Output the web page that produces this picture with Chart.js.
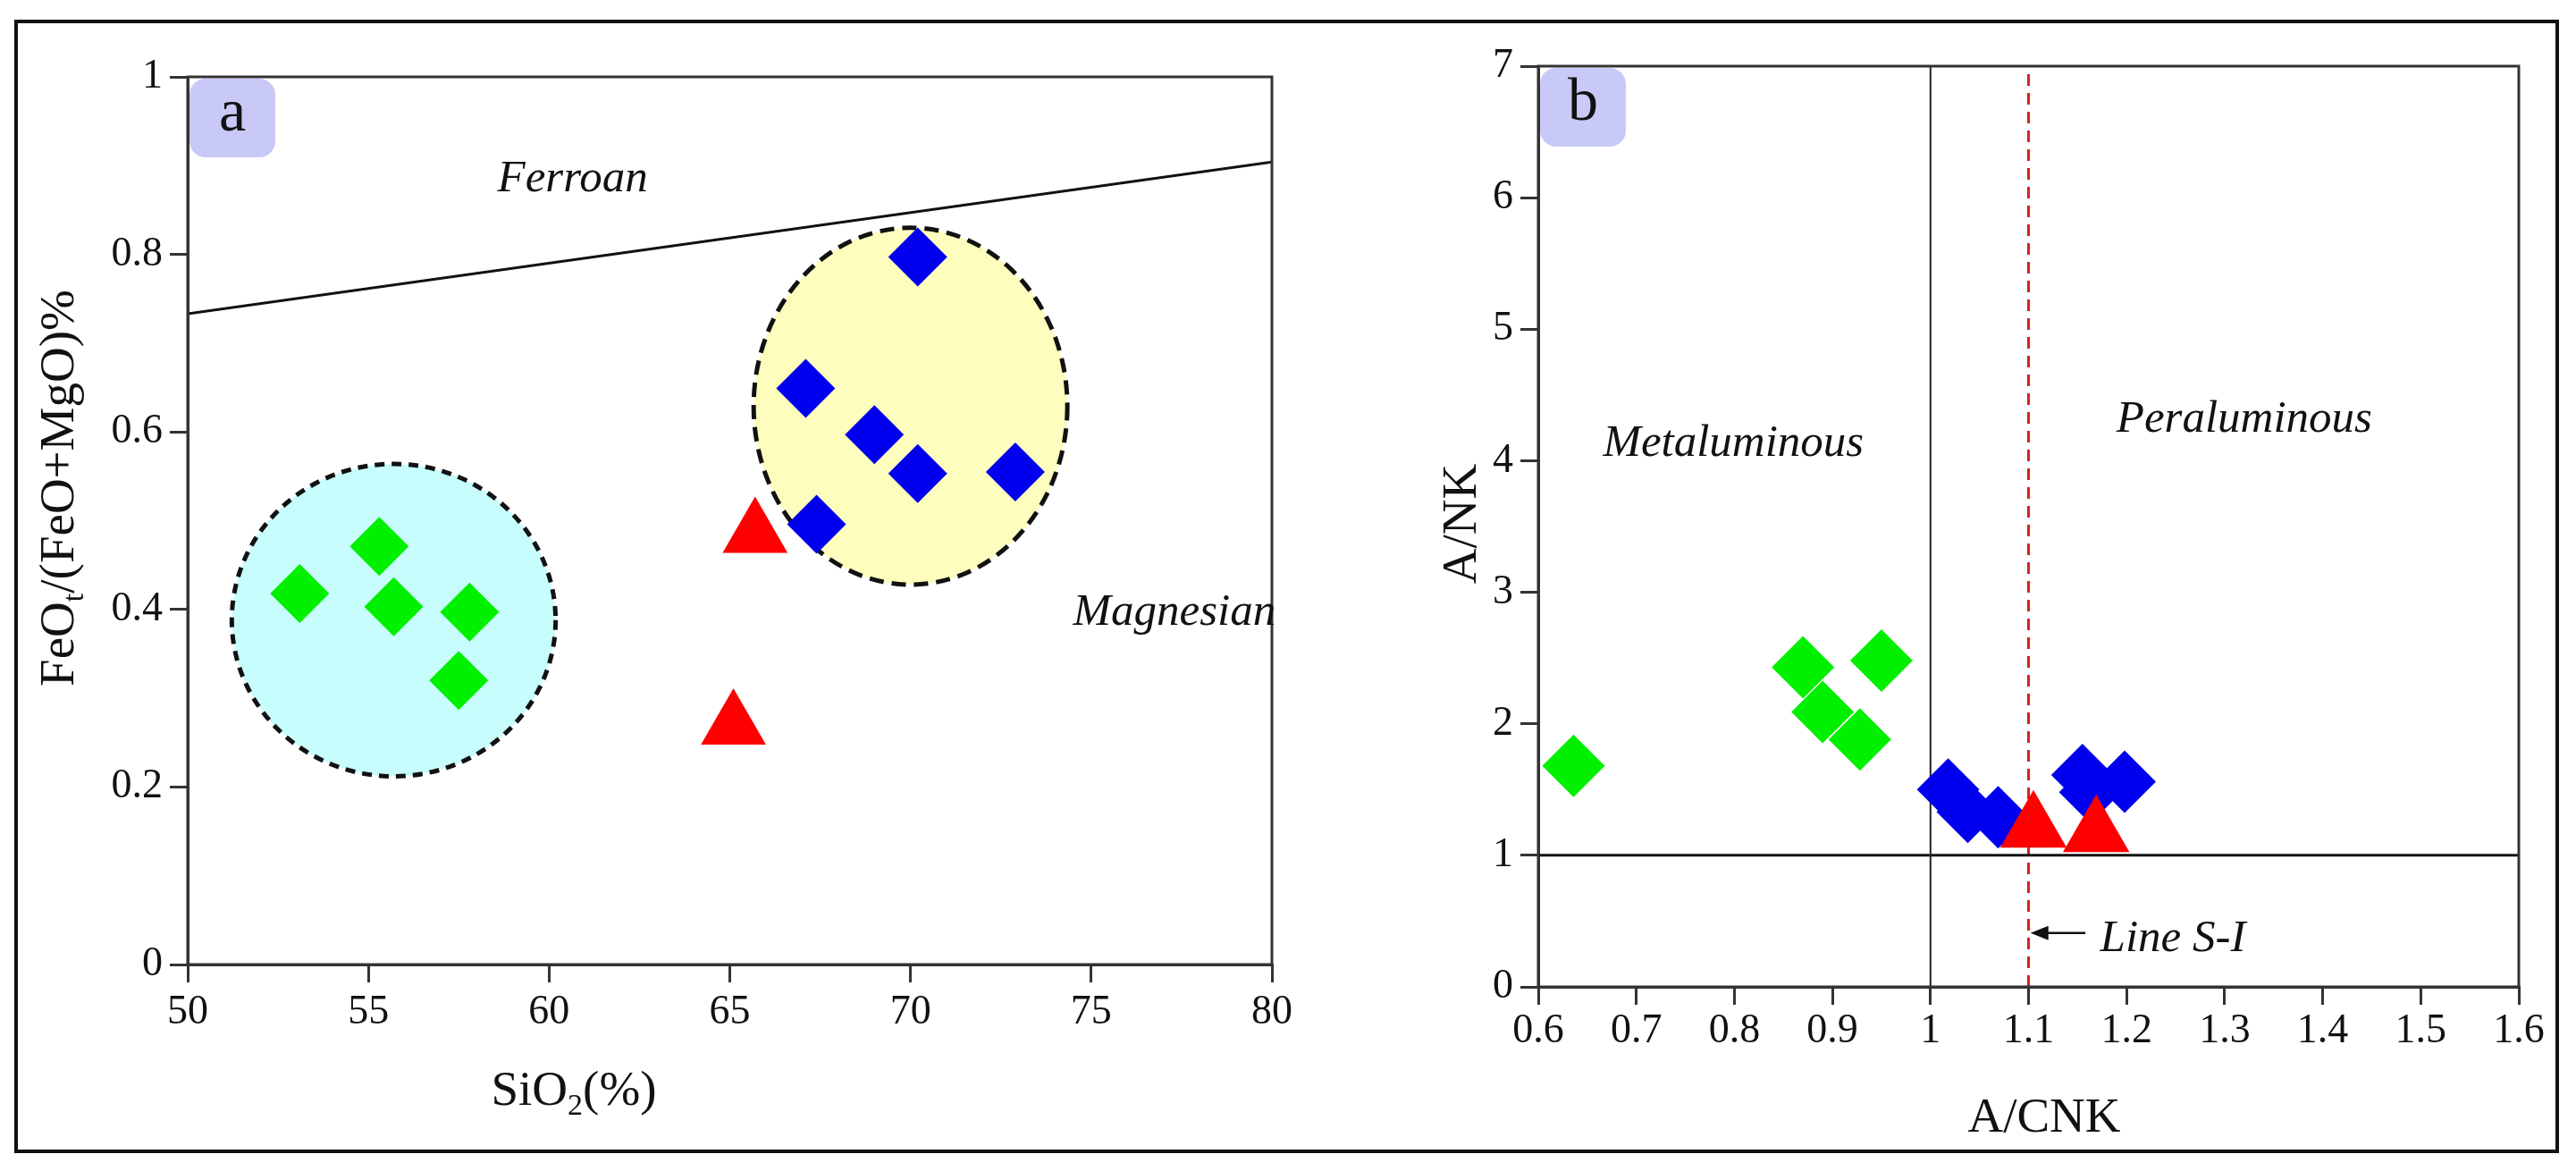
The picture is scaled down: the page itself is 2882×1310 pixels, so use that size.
<!DOCTYPE html>
<html>
<head>
<meta charset="utf-8">
<title>FeOt/(FeO+MgO) vs SiO2 and A/NK vs A/CNK</title>
<script src="https://cdn.jsdelivr.net/npm/chart.js@4.4.1/dist/chart.umd.min.js"></script>
<style>
  html, body { margin: 0; padding: 0; background: #fff; }
  #wrap { position: relative; width: 2882px; height: 1310px; overflow: hidden; }
  #frame { position: absolute; left: 16px; top: 22px; width: 2847px; height: 1268px; box-sizing: border-box; border: 4px solid #111; }
  canvas { position: absolute; top: 0; }
  #chartA { left: 0; }
  #chartB { left: 1441px; }
</style>
</head>
<body>
<div id="wrap">
  <div id="frame"></div>
  <canvas id="chartA" width="1500" height="1310"></canvas>
  <canvas id="chartB" width="1441" height="1310"></canvas>
</div>
<script>
// --- Panel a: SiO2 vs FeOt/(FeO+MgO) ---
const siTicks = [50, 55, 60, 65, 70, 75, 80];
const feTicks = [0, 0.2, 0.4, 0.6, 0.8, 1];
const greenSi = [53.1, 55.3, 55.7, 57.8, 57.5];
const greenFe = [0.418, 0.471, 0.403, 0.397, 0.320];
const blueSi = [70.2, 67.1, 69.0, 70.2, 72.9, 67.4];
const blueFe = [0.797, 0.649, 0.597, 0.553, 0.555, 0.496];
const redSi = [65.7, 65.1];
const redFe = [0.485, 0.269];
const ferroanSi = [50, 80];
const ferroanFe = [0.733, 0.904];

// --- Panel b: A/CNK vs A/NK ---
const acnkTicks = [0.6, 0.7, 0.8, 0.9, 1, 1.1, 1.2, 1.3, 1.4, 1.5, 1.6];
const ankTicks = [0, 1, 2, 3, 4, 5, 6, 7];
const greenAcnk = [0.636, 0.870, 0.890, 0.928, 0.950];
const greenAnk = [1.68, 2.43, 2.09, 1.88, 2.48];
const blueAcnk = [1.018, 1.038, 1.069, 1.155, 1.163, 1.198];
const blueAnk = [1.50, 1.33, 1.29, 1.61, 1.48, 1.56];
const redAcnk = [1.105, 1.169];
const redAnk = [1.205, 1.171];
const metaPeraX = [1, 1];       // A/CNK = 1 boundary
const metaPeraY = [0, 7];
const ankOneX = [0.6, 1.6];     // A/NK = 1 boundary
const ankOneY = [1, 1];
const lineSIX = [1.1, 1.1];     // S-I type line
const lineSIY = [0, 7];

const SERIF = "'Liberation Serif', 'Times New Roman', serif";
Chart.defaults.font.family = SERIF;
Chart.defaults.color = '#111';

const pts = (xs, ys) => xs.map((x, i) => ({ x, y: ys[i] }));

function markers(xs, ys, color, style, radius, order) {
    return {
        data: pts(xs, ys),
        pointStyle: style,
        pointRadius: radius,
        pointBackgroundColor: color,
        pointBorderWidth: 0,
        showLine: false,
        order
    };
}

function line(xs, ys, color, width, dash) {
    return {
        data: pts(xs, ys),
        showLine: true,
        borderColor: color,
        borderWidth: width,
        borderDash: dash || [],
        pointRadius: 0,
        order: 10
    };
}

function axis(ticks, min, max, size, isX, pad) {
    return {
        type: 'linear',
        min, max,
        afterBuildTicks: s => { s.ticks = ticks.map(v => ({ value: v })); },
        afterFit: s => { if (isX) s.height = size; else s.width = size; },
        ticks: {
            font: { size: 46 },
            color: '#111',
            padding: pad,
            autoSkip: false,
            maxRotation: 0,
            callback: v => String(v)
        },
        grid: { drawOnChartArea: false, drawTicks: true, tickLength: 20, lineWidth: 3, color: '#333' },
        border: { display: true, width: 3, color: '#333' },
        title: { display: false }
    };
}

// text with subscripts, centred on (x, y)
function drawRich(ctx, parts, x, y, size, rot) {
    ctx.save();
    ctx.translate(x, y);
    if (rot) ctx.rotate(rot);
    ctx.textBaseline = 'middle';
    ctx.textAlign = 'left';
    ctx.fillStyle = '#111';
    const fontOf = p => `${p.sub ? Math.round(size * 0.62) : size}px ${SERIF}`;
    let total = 0;
    parts.forEach(p => { ctx.font = fontOf(p); total += ctx.measureText(p.t).width; });
    let cx = -total / 2;
    parts.forEach(p => {
        ctx.font = fontOf(p);
        ctx.fillText(p.t, cx, p.sub ? size * 0.3 : 0);
        cx += ctx.measureText(p.t).width;
    });
    ctx.restore();
}

const decor = {
    id: 'decor',
    beforeDatasetsDraw(chart, args, opts) {
        const { ctx, scales: { x, y } } = chart;
        (opts.ellipses || []).forEach(e => {
            const cx = x.getPixelForValue(e.cx), cy = y.getPixelForValue(e.cy);
            const rx = Math.abs(x.getPixelForValue(e.cx + e.rx) - cx);
            const ry = Math.abs(y.getPixelForValue(e.cy + e.ry) - cy);
            ctx.save();
            ctx.beginPath();
            ctx.ellipse(cx, cy, rx, ry, 0, 0, Math.PI * 2);
            ctx.fillStyle = e.fill;
            ctx.fill();
            ctx.setLineDash(e.dash);
            ctx.lineWidth = 5;
            ctx.strokeStyle = '#111';
            ctx.stroke();
            ctx.restore();
        });
    },
    afterDraw(chart, args, opts) {
        const { ctx, chartArea: a, scales: { x, y } } = chart;
        ctx.save();
        // plot box (top / right sides)
        ctx.strokeStyle = '#333';
        ctx.lineWidth = 3;
        ctx.strokeRect(a.left, a.top, a.right - a.left, a.bottom - a.top);

        // panel badge
        ctx.fillStyle = '#c9c9f8';
        ctx.beginPath();
        ctx.roundRect(a.left + 2, a.top + 2, 96, 88, 18);
        ctx.fill();
        ctx.fillStyle = '#111';
        ctx.font = `68px ${SERIF}`;
        ctx.textAlign = 'center';
        ctx.textBaseline = 'middle';
        ctx.fillText(opts.badge, a.left + 50, a.top + 42);

        // field labels
        ctx.font = `italic 51px ${SERIF}`;
        (opts.labels || []).forEach(l => {
            ctx.textAlign = l.align || 'center';
            ctx.fillText(l.text, x.getPixelForValue(l.x), y.getPixelForValue(l.y));
        });

        // arrow
        if (opts.arrow) {
            const r = opts.arrow;
            const x0 = x.getPixelForValue(r.from), x1 = x.getPixelForValue(r.to), yy = y.getPixelForValue(r.y);
            ctx.strokeStyle = '#111';
            ctx.lineWidth = 2.5;
            ctx.beginPath();
            ctx.moveTo(x0, yy);
            ctx.lineTo(x1 + 12, yy);
            ctx.stroke();
            ctx.beginPath();
            ctx.moveTo(x1, yy);
            ctx.lineTo(x1 + 20, yy - 8);
            ctx.lineTo(x1 + 20, yy + 8);
            ctx.closePath();
            ctx.fill();
        }
        ctx.restore();

        // axis titles
        (opts.titles || []).forEach(t => drawRich(ctx, t.parts, t.x, t.y, 55, t.rot));
    }
};

function baseOptions(padding) {
    return {
        responsive: false,
        animation: false,
        events: [],
        layout: { padding },
        plugins: { legend: { display: false }, tooltip: { enabled: false } }
    };
}

// --- Chart a ---
const optsA = baseOptions({ left: 0, top: 86, right: 77, bottom: 0 });
optsA.scales = {
    x: axis(siTicks, 50, 80, 231, true, 6),
    y: axis(feTicks, 0, 1, 210, false, 8)
};
optsA.plugins.decor = {
    badge: 'a',
    ellipses: [
        { cx: 55.7, cy: 0.388, rx: 4.48, ry: 0.176, fill: '#c8fdfd', dash: [11, 8] },
        { cx: 70.0, cy: 0.629, rx: 4.34, ry: 0.201, fill: '#fdfdbe', dash: [16, 9] }
    ],
    labels: [
        { text: 'Ferroan', x: 60.65, y: 0.885 },
        { text: 'Magnesian', x: 77.3, y: 0.396 }
    ],
    titles: [
        { parts: [{ t: 'FeO' }, { t: 't', sub: true }, { t: '/(FeO+MgO)%' }], x: 68, y: 546, rot: -Math.PI / 2 },
        { parts: [{ t: 'SiO' }, { t: '2', sub: true }, { t: '(%)' }], x: 642, y: 1222 }
    ]
};

new Chart(document.getElementById('chartA'), {
    type: 'scatter',
    data: {
        datasets: [
            line(ferroanSi, ferroanFe, '#111', 3),
            markers(greenSi, greenFe, '#00f000', 'rectRot', 33, 3),
            markers(blueSi, blueFe, '#0000ee', 'rectRot', 33, 2),
            markers(redSi, redFe, '#ff0000', 'triangle', 42, 1)
        ]
    },
    options: optsA,
    plugins: [decor]
});

// --- Chart b ---
const optsB = baseOptions({ left: 0, top: 74, right: 64, bottom: 0 });
optsB.scales = {
    x: axis(acnkTicks, 0.6, 1.6, 206, true, 2),
    y: axis(ankTicks, 0, 7, 280, false, 8)
};
optsB.plugins.decor = {
    badge: 'b',
    labels: [
        { text: 'Metaluminous', x: 0.799, y: 4.13 },
        { text: 'Peraluminous', x: 1.32, y: 4.31 },
        { text: 'Line S-I', x: 1.173, y: 0.36, align: 'left' }
    ],
    arrow: { from: 1.158, to: 1.102, y: 0.41 },
    titles: [
        { parts: [{ t: 'A/NK' }], x: 196, y: 586, rot: -Math.PI / 2 },
        { parts: [{ t: 'A/CNK' }], x: 846, y: 1252 }
    ]
};

new Chart(document.getElementById('chartB'), {
    type: 'scatter',
    data: {
        datasets: [
            line(metaPeraX, metaPeraY, '#222', 2),
            line(ankOneX, ankOneY, '#111', 3),
            line(lineSIX, lineSIY, '#d42222', 3, [13, 8]),
            markers(greenAcnk, greenAnk, '#00f000', 'rectRot', 35, 3),
            markers(blueAcnk, blueAnk, '#0000ee', 'rectRot', 35, 2),
            markers(redAcnk, redAnk, '#ff0000', 'triangle', 43, 1)
        ]
    },
    options: optsB,
    plugins: [decor]
});
</script>
</body>
</html>
